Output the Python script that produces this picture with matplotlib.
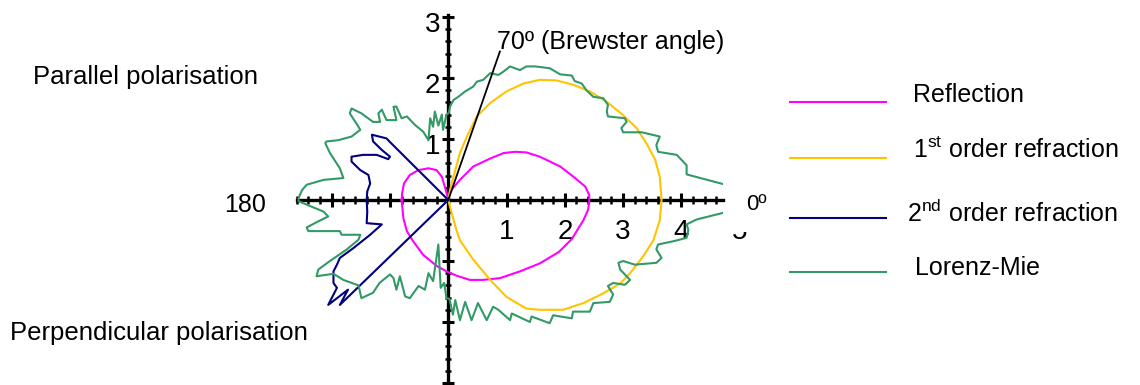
import numpy as np
import matplotlib
matplotlib.use("Agg")
import matplotlib.pyplot as plt
from matplotlib.ticker import MultipleLocator, FuncFormatter
from matplotlib.lines import Line2D
from matplotlib.transforms import ScaledTranslation

plt.rcParams['font.family'] = ['Liberation Sans', 'DejaVu Sans']

# scattered intensity, drawn as (x, y) = I * (cos theta, +/- sin theta)
# upper half: parallel polarisation, lower half: perpendicular polarisation

# reflection
refl_x = [-0.80, -0.79, -0.76, -0.66, -0.51, -0.34, -0.20, -0.11, -0.06, -0.01, 0.00,
          0.03, 0.20, 0.43, 0.72, 0.95, 1.15, 1.34, 1.57, 1.92, 2.15, 2.35, 2.42, 2.42,
          2.40, 2.32, 2.12, 1.90, 1.57, 1.23, 0.89, 0.60, 0.37, 0.14, -0.03, -0.20,
          -0.43, -0.60, -0.71, -0.77, -0.80]
refl_y = [0.00, 0.12, 0.27, 0.41, 0.49, 0.52, 0.49, 0.38, 0.22, 0.05, 0.00,
          0.14, 0.33, 0.55, 0.68, 0.77, 0.79, 0.78, 0.71, 0.55, 0.38, 0.22, 0.08, -0.02,
          -0.16, -0.33, -0.64, -0.85, -1.04, -1.17, -1.28, -1.31, -1.31, -1.24, -1.17, -1.08,
          -0.90, -0.68, -0.51, -0.30, 0.00]

# 1st order refraction
refr1_x = [0.00, 0.03, 0.09, 0.20, 0.32, 0.49, 0.72, 1.00, 1.29, 1.57, 1.86, 2.14, 2.43,
           2.72, 3.00, 3.23, 3.40, 3.55, 3.63, 3.66, 3.63, 3.52, 3.34, 3.12, 2.95, 2.66,
           2.32, 1.97, 1.57, 1.34, 1.00, 0.72, 0.43, 0.20, 0.14, 0.06, 0.00]
refr1_y = [0.00, 0.16, 0.38, 0.77, 1.04, 1.37, 1.59, 1.78, 1.91, 1.97, 1.96, 1.89, 1.78,
           1.61, 1.39, 1.18, 0.93, 0.66, 0.38, 0.00, -0.33, -0.66, -0.93, -1.20, -1.37, -1.53,
           -1.69, -1.80, -1.80, -1.78, -1.59, -1.31, -0.98, -0.66, -0.49, -0.22, 0.00]

# 2nd order refraction
refr2_x = [0.00, -1.00, -1.06, -1.31, -1.29, -1.14, -1.00, -1.03, -1.23, -1.46, -1.66,
           -1.66, -1.51, -1.37, -1.34, -1.39, -1.40, -1.39, -1.40, -1.14, -1.34, -1.63,
           -1.86, -1.91, -1.97, -1.97, -1.91, -2.06, -1.72, -1.86, 0.00]
refr2_y = [0.00, 0.95, 1.01, 1.07, 0.96, 0.82, 0.71, 0.67, 0.74, 0.74, 0.71,
           0.63, 0.49, 0.41, 0.27, 0.14, 0.00, -0.19, -0.38, -0.40, -0.57, -0.79,
           -0.95, -1.06, -1.17, -1.36, -1.44, -1.72, -1.47, -1.72, 0.00]

# Lorenz-Mie, parallel half (0 -> 180 deg)
mie_par_x = [5.00, 4.72, 4.09, 4.09, 3.92, 3.60, 3.57, 3.63, 3.32, 3.00, 2.97, 3.06, 3.03,
             2.74, 2.72, 2.74, 2.66, 2.49, 2.37, 2.29, 2.17, 2.12, 1.92, 1.74, 1.49, 1.34,
             1.23, 1.14, 1.06, 0.94, 0.86, 0.72, 0.60, 0.49, 0.43, 0.29, 0.17, 0.09, 0.03,
             0.01, -0.03, -0.09, -0.11, -0.17, -0.23, -0.26, -0.31, -0.34, -0.43, -0.57,
             -0.71, -0.80, -0.89, -0.94, -0.89, -1.06, -1.14, -1.20, -1.17, -1.29, -1.49,
             -1.66, -1.69, -1.54, -1.51, -1.66, -1.89, -2.09, -2.11, -2.03, -1.86, -1.80,
             -2.14, -2.43, -2.51, -2.57]
mie_par_y = [0.19, 0.26, 0.42, 0.57, 0.74, 0.79, 0.90, 1.04, 1.11, 1.11, 1.18, 1.28, 1.34,
             1.37, 1.45, 1.56, 1.67, 1.69, 1.80, 1.91, 1.95, 2.04, 2.06, 2.16, 2.19, 2.19,
             2.13, 2.16, 2.19, 2.10, 2.05, 2.08, 1.97, 1.94, 1.86, 1.78, 1.69, 1.64, 1.53,
             1.43, 1.40, 1.15, 1.40, 1.22, 1.45, 1.20, 1.34, 0.98, 1.12, 1.23,
             1.37, 1.34, 1.53, 1.53, 1.31, 1.31, 1.48, 1.42, 1.28, 1.28, 1.42,
             1.50, 1.42, 1.20, 1.15, 1.04, 0.98, 0.96, 0.93, 0.77, 0.52, 0.36,
             0.33, 0.25, 0.16, 0.03]

# Lorenz-Mie, perpendicular half (180 -> 0 deg)
mie_perp_x = [-2.57, -2.37, -2.14, -2.06, -2.23, -2.43, -2.40, -1.86, -1.83, -1.51, -1.54,
              -1.74, -2.03, -2.23, -2.26, -1.97, -1.80, -1.54, -1.49, -1.29, -1.18, -1.00,
              -0.94, -0.89, -0.83, -0.74, -0.66, -0.51, -0.40, -0.34, -0.26, -0.17, -0.13,
              -0.07, -0.03, 0.02, 0.08, 0.12, 0.20, 0.29, 0.40, 0.51, 0.66, 0.77, 0.86,
              1.06, 1.09, 1.40, 1.43, 1.74, 1.80, 2.12, 2.14, 2.43, 2.49, 2.77, 2.83, 2.74,
              2.83, 3.03, 3.12, 2.95, 2.92, 3.00, 3.20, 3.57, 3.66, 3.57, 3.60, 3.89, 4.09,
              4.12, 4.09, 4.26, 4.72, 5.00]
mie_perp_y = [-0.02, -0.10, -0.19, -0.27, -0.35, -0.45, -0.51, -0.51, -0.57, -0.57, -0.65,
              -0.81, -1.00, -1.14, -1.25, -1.21, -1.31, -1.40, -1.61, -1.52, -1.36, -1.22,
              -1.28, -1.47, -1.25, -1.58, -1.61, -1.41, -1.47, -1.20, -1.33, -0.73, -1.44,
              -1.36, -1.61, -1.62, -1.88, -1.64, -1.97, -1.67, -1.97, -1.69, -1.97, -1.75, -1.80,
              -1.97, -1.86, -2.00, -1.91, -2.02, -1.89, -1.94, -1.83, -1.83, -1.69, -1.67, -1.55, -1.41,
              -1.36, -1.39, -1.31, -1.14, -1.03, -1.00, -1.06, -1.03, -0.95, -0.81, -0.73, -0.67, -0.62,
              -0.49, -0.40, -0.32, -0.21, -0.14]

brewster_deg = 70
brewster_len = 2.59

series = [
    ("Reflection", refl_x, refl_y, "#FF00FF"),
    ("1$^{\\mathregular{st}}$ order refraction", refr1_x, refr1_y, "#FFC400"),
    ("2$^{\\mathregular{nd}}$ order refraction", refr2_x, refr2_y, "#000080"),
    ("Lorenz-Mie", mie_par_x + mie_perp_x, mie_par_y + mie_perp_y, "#339966"),
]

fig = plt.figure(figsize=(11.4, 3.85), dpi=100)
ax = fig.add_axes([0.2603, 0.0052, 0.3742, 0.957])
ax.set_xlim(-2.6, 4.72)
ax.set_ylim(-3.0, 3.04)

for label, xs, ys, col in series:
    ax.plot(xs, ys, color=col, lw=1.5, zorder=3)

ang = np.deg2rad(brewster_deg)
ax.plot([0, brewster_len * np.cos(ang)], [0, brewster_len * np.sin(ang)],
        color="black", lw=1.3, zorder=4)
ax.text(0.835, 2.59, "70º (Brewster angle)", fontsize=18, va="center", ha="left")

# axes crossing at the origin
for s in ["top", "right"]:
    ax.spines[s].set_visible(False)
for s in ["left", "bottom"]:
    ax.spines[s].set_position(("data", 0))
    ax.spines[s].set_linewidth(2.4)
for axis in (ax.xaxis, ax.yaxis):
    axis.set_major_locator(MultipleLocator(1))
    axis.set_minor_locator(MultipleLocator(0.2))
    axis.set_major_formatter(FuncFormatter(lambda v, p: f"{v:.0f}" if v > 0.5 else ""))
ax.tick_params(which="major", direction="inout", width=2.2, labelsize=20)
ax.tick_params(axis="x", which="major", length=10, pad=8.7)
ax.tick_params(axis="y", which="major", length=8, pad=1.8)
ax.tick_params(which="minor", direction="inout", length=6, width=1.8)
ax.tick_params(axis="y", which="minor", length=5)
shift = ScaledTranslation(0, -0.05, fig.dpi_scale_trans)
for t in ax.get_yticklabels():
    t.set_transform(t.get_transform() + shift)

# the 0º label sits on top of the "5", hiding most of it
ax.text(5, -0.31, "5", fontsize=20, ha="center", va="top", clip_on=False, zorder=5)
ax.text(5.29, -0.08, "0º", fontsize=16, ha="center", va="center", clip_on=False, zorder=6,
        bbox=dict(boxstyle="square,pad=0.75", fc="white", ec="none"))
ax.text(-3.49, -0.08, "180", fontsize=18, ha="center", va="center", clip_on=False)

fig.text(33 / 1140, 1 - 77 / 385, "Parallel polarisation", fontsize=18.5, va="center")
fig.text(10 / 1140, 1 - 333 / 385, "Perpendicular polarisation", fontsize=18.5, va="center")

# legend drawn by hand
line_y = [102, 158, 218, 272]
text_y = [95, 150, 213, 268]
text_x = [913, 913, 907, 915]
for (label, xs, ys, col), ly, ty, tx in zip(series, line_y, text_y, text_x):
    fig.add_artist(Line2D([790 / 1140, 886 / 1140], [1 - ly / 385, 1 - ly / 385],
                          color=col, lw=1.5, transform=fig.transFigure))
    fig.text(tx / 1140, 1 - ty / 385, label, fontsize=18, va="center", ha="left")

fig.savefig("out.png", dpi=100)
